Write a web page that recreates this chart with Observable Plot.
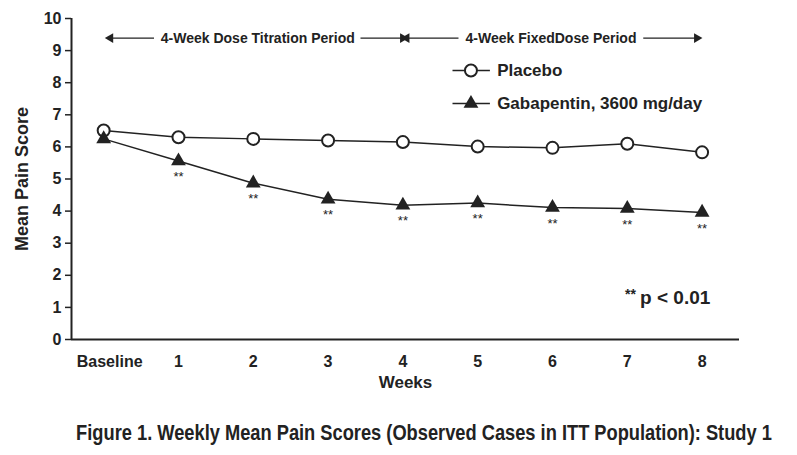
<!DOCTYPE html>
<html>
<head>
<meta charset="utf-8">
<script src="https://cdn.jsdelivr.net/npm/d3@7"></script>
<script src="https://cdn.jsdelivr.net/npm/@observablehq/plot@0.6"></script>
<style>
  html, body { margin: 0; padding: 0; background: #fff; }
  #chart { width: 797px; height: 400px; }
  .caption-wrap { width: 797px; height: 55px; position: relative; }
  .caption {
    position: absolute; left: 424px; top: 20px;
    transform: translateX(-50%) scaleX(0.83);
    white-space: nowrap;
    font-family: "Liberation Sans", Arial, sans-serif;
    font-weight: bold; font-size: 22px; color: #222;
  }
  svg text { font-family: "Liberation Sans", Arial, sans-serif; }
</style>
</head>
<body>
<div id="chart"></div>
<div class="caption-wrap"><div class="caption">Figure 1. Weekly Mean Pain Scores (Observed Cases in ITT Population): Study 1</div></div>
<script>
// ---- data ----
const weeks = [0, 1, 2, 3, 4, 5, 6, 7, 8];
const weekLabels = ["Baseline", "1", "2", "3", "4", "5", "6", "7", "8"];
const placebo = [6.51, 6.30, 6.25, 6.20, 6.15, 6.01, 5.97, 6.10, 5.83];
const gabapentin = [6.25, 5.56, 4.87, 4.37, 4.18, 4.25, 4.11, 4.08, 3.96];
const significant = [false, true, true, true, true, true, true, true, true];
const yTicks = [0, 1, 2, 3, 4, 5, 6, 7, 8, 9, 10];
const seriesNames = ["Placebo", "Gabapentin, 3600 mg/day"];
const periodLabels = ["4-Week Dose Titration Period", "4-Week FixedDose Period"];

// ---- tables ----
const plc = weeks.map((w, i) => ({week: w, score: placebo[i]}));
const gab = weeks.map((w, i) => ({week: w, score: gabapentin[i], sig: significant[i]}));
const weekTicks = weeks.map((w, i) => ({week: w, label: weekLabels[i]}));

const xMin = -0.43, xMax = 8.5;
const arrowY = 9.39;
// segments of the period arrows (gaps left for the labels)
const periodSegs = [
  {x1: 0.09, x2: 0.68}, {x1: 3.44, x2: 4.0},
  {x1: 4.05, x2: 4.75}, {x1: 7.22, x2: 7.93}
];
const heads = [
  {x: 0.09, rot: -90}, {x: 4.0, rot: 90},
  {x: 4.05, rot: -90}, {x: 7.93, rot: 90}
];
const periodText = periodLabels.map((l, i) => ({label: l, x: [2.06, 5.98][i]}));

const legendY = [8.38, 7.35];

const bold = {fontWeight: "bold", fill: "#222"};

const chart = Plot.plot({
  width: 797,
  height: 400,
  marginLeft: 71,
  marginRight: 58,
  marginTop: 18,
  marginBottom: 61,
  x: {domain: [xMin, xMax], axis: null},
  y: {domain: [0, 10], axis: null},
  marks: [
    // axes
    Plot.axisY({ticks: yTicks, tickSize: 6, tickPadding: 4, fontSize: 16, fontWeight: "bold", label: null, stroke: "#222", strokeWidth: 1.5, fill: "#222"}),
    Plot.ruleX([xMin], {stroke: "#222", strokeWidth: 2}),
    Plot.ruleY([0], {stroke: "#222", strokeWidth: 2}),
    Plot.text(weekTicks.slice(1), {x: "week", y: 0, text: "label", dy: 22, fontSize: 16, letterSpacing: 1, ...bold}),
    Plot.text(weekTicks.slice(0, 1), {x: "week", y: 0, text: "label", dy: 22, dx: 6, fontSize: 16, letterSpacing: 1.3, ...bold}),
    Plot.text(["Mean Pain Score"], {frameAnchor: "left", textAnchor: "middle", rotate: -90, dx: -49, fontSize: 18, ...bold}),
    Plot.text(["Weeks"], {frameAnchor: "bottom", dy: 48, fontSize: 17, letterSpacing: 1.5, ...bold}),

    // period arrows
    Plot.ruleY(periodSegs, {x1: "x1", x2: "x2", y: arrowY, stroke: "#222", strokeWidth: 1.2}),
    Plot.dot(heads, {x: "x", y: arrowY, symbol: "triangle", r: 3.6, fill: "#222", rotate: "rot"}),
    Plot.text(periodText, {x: "x", y: arrowY, text: "label", fontSize: 14, ...bold}),

    // legend
    Plot.ruleY(legendY, {x1: 4.67, x2: 5.17, y: d => d, stroke: "#222", strokeWidth: 1.5}),
    Plot.dot([legendY[0]], {x: 4.91, y: d => d, r: 6, fill: "white", stroke: "#222", strokeWidth: 2}),
    Plot.dot([legendY[1]], {x: 4.91, y: d => d, symbol: "triangle", r: 5.5, fill: "#222"}),
    Plot.text(seriesNames, {x: 5.26, y: (d, i) => legendY[i], text: d => d, textAnchor: "start", fontSize: 17, letterSpacing: 1.8, ...bold}),

    // series
    Plot.line(plc, {x: "week", y: "score", stroke: "#222", strokeWidth: 1.5}),
    Plot.line(gab, {x: "week", y: "score", stroke: "#222", strokeWidth: 1.5}),
    Plot.dot(plc, {x: "week", y: "score", r: 6, fill: "white", stroke: "#222", strokeWidth: 2}),
    Plot.dot(gab, {x: "week", y: "score", symbol: "triangle", r: 5.5, fill: "#222"}),
    Plot.text(gab.filter(d => d.sig), {x: "week", y: "score", text: () => "**", dy: 16, fontSize: 13, fill: "#222"}),

    // significance note
    Plot.text(["**"], {x: 6.97, y: 1.31, text: d => d, textAnchor: "start", dy: -3, fontSize: 14, ...bold}),
    Plot.text(["p < 0.01"], {x: 6.97, y: 1.31, text: d => d, textAnchor: "start", dx: 15, fontSize: 19, letterSpacing: 1.2, ...bold})
  ]
});
document.getElementById("chart").append(chart);
</script>
</body>
</html>
